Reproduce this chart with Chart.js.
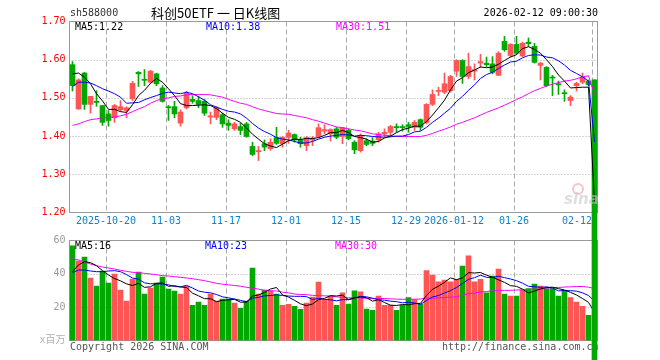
<!DOCTYPE html>
<html><head><meta charset="utf-8">
<script src="https://cdn.jsdelivr.net/npm/chart.js@4.4.1/dist/chart.umd.min.js"></script>
<style>
html,body{margin:0;padding:0;background:#fff;}
#wrap{position:relative;width:660px;height:360px;overflow:hidden;background:#fff;}
canvas{position:absolute;left:0;top:0;}
</style></head><body>
<div id="wrap"><canvas id="vol" width="660" height="360"></canvas><canvas id="price" width="660" height="360"></canvas></div>
<script>
const dates = ['2025-10-10','2025-10-13','2025-10-14','2025-10-15','2025-10-16','2025-10-17','2025-10-20','2025-10-21','2025-10-22','2025-10-23','2025-10-24','2025-10-27','2025-10-28','2025-10-29','2025-10-30','2025-10-31',
'2025-11-03','2025-11-04','2025-11-05','2025-11-06','2025-11-07','2025-11-10','2025-11-11','2025-11-12','2025-11-13','2025-11-14','2025-11-17','2025-11-18','2025-11-19','2025-11-20','2025-11-21','2025-11-24','2025-11-25','2025-11-26','2025-11-27','2025-11-28',
'2025-12-01','2025-12-02','2025-12-03','2025-12-04','2025-12-05','2025-12-08','2025-12-09','2025-12-10','2025-12-11','2025-12-12','2025-12-15','2025-12-16','2025-12-17','2025-12-18','2025-12-19','2025-12-22','2025-12-23','2025-12-24','2025-12-25','2025-12-26','2025-12-29','2025-12-30','2025-12-31',
'2026-01-05','2026-01-06','2026-01-07','2026-01-08','2026-01-09','2026-01-12','2026-01-13','2026-01-14','2026-01-15','2026-01-16','2026-01-19','2026-01-20','2026-01-21','2026-01-22','2026-01-23','2026-01-26','2026-01-27','2026-01-28','2026-01-29','2026-01-30',
'2026-02-02','2026-02-03','2026-02-04','2026-02-05','2026-02-06','2026-02-09','2026-02-10','2026-02-11','2026-02-12'];

const openP = [1.587,1.471,1.565,1.483,1.491,1.480,1.458,1.448,1.469,1.467,1.498,1.567,1.548,1.541,1.563,1.526,1.477,1.477,1.434,1.474,1.496,1.493,1.491,1.450,1.449,1.456,1.434,1.419,1.425,1.432,1.373,1.359,1.380,1.367,1.396,1.380,1.397,1.404,1.390,1.375,1.390,1.399,1.413,1.406,1.419,1.399,1.415,1.384,1.362,1.388,1.387,1.390,1.406,1.410,1.425,1.425,1.430,1.423,1.443,1.436,1.483,1.517,1.515,1.519,1.570,1.598,1.556,1.570,1.591,1.591,1.589,1.559,1.648,1.611,1.640,1.610,1.646,1.635,1.585,1.580,1.554,1.537,1.513,1.493,1.532,1.541,1.544,1.547];
const highP = [1.595,1.550,1.567,1.504,1.519,1.480,1.467,1.483,1.493,1.477,1.543,1.569,1.574,1.572,1.565,1.532,1.480,1.491,1.469,1.517,1.506,1.504,1.496,1.463,1.477,1.460,1.443,1.436,1.434,1.436,1.384,1.373,1.390,1.393,1.423,1.399,1.415,1.406,1.397,1.399,1.399,1.432,1.430,1.419,1.423,1.423,1.419,1.388,1.406,1.393,1.396,1.410,1.419,1.428,1.432,1.430,1.436,1.441,1.445,1.485,1.521,1.528,1.565,1.559,1.600,1.600,1.617,1.589,1.614,1.607,1.608,1.621,1.661,1.642,1.661,1.646,1.657,1.643,1.593,1.582,1.559,1.544,1.521,1.506,1.541,1.565,1.547,1.547];
const lowP = [1.518,1.470,1.470,1.460,1.478,1.428,1.426,1.436,1.464,1.448,1.493,1.530,1.532,1.538,1.532,1.489,1.441,1.448,1.426,1.471,1.486,1.474,1.454,1.432,1.443,1.423,1.415,1.415,1.404,1.397,1.349,1.336,1.362,1.363,1.378,1.371,1.381,1.384,1.371,1.362,1.375,1.396,1.406,1.387,1.393,1.380,1.390,1.354,1.358,1.375,1.375,1.384,1.399,1.401,1.410,1.413,1.410,1.415,1.415,1.432,1.480,1.506,1.511,1.515,1.556,1.538,1.550,1.547,1.580,1.582,1.563,1.559,1.622,1.607,1.614,1.608,1.635,1.591,1.547,1.530,1.506,1.509,1.491,1.480,1.518,1.537,1.532,0];
const closeP = [1.532,1.547,1.483,1.504,1.488,1.436,1.441,1.480,1.477,1.474,1.538,1.563,1.546,1.570,1.537,1.491,1.474,1.458,1.463,1.512,1.491,1.483,1.460,1.453,1.474,1.432,1.428,1.432,1.415,1.399,1.352,1.362,1.371,1.384,1.381,1.397,1.408,1.390,1.380,1.396,1.394,1.422,1.417,1.417,1.397,1.422,1.393,1.364,1.402,1.378,1.381,1.406,1.410,1.425,1.422,1.422,1.425,1.436,1.423,1.483,1.509,1.519,1.537,1.556,1.598,1.556,1.582,1.574,1.595,1.587,1.567,1.617,1.626,1.640,1.617,1.643,1.642,1.593,1.591,1.532,1.552,1.534,1.511,1.502,1.538,1.554,1.535,0];

const ma5 = [1.563,1.565,1.554,1.537,1.511,1.492,1.470,1.470,1.464,1.462,1.482,1.506,1.520,1.538,1.551,1.541,1.524,1.506,1.485,1.480,1.480,1.481,1.482,1.480,1.472,1.460,1.449,1.444,1.436,1.421,1.405,1.392,1.380,1.374,1.370,1.379,1.388,1.392,1.391,1.394,1.394,1.396,1.402,1.409,1.409,1.415,1.409,1.399,1.396,1.392,1.384,1.386,1.395,1.400,1.409,1.417,1.421,1.426,1.426,1.438,1.455,1.474,1.494,1.521,1.544,1.553,1.566,1.573,1.581,1.579,1.581,1.588,1.598,1.607,1.613,1.629,1.634,1.627,1.617,1.600,1.582,1.560,1.544,1.526,1.527,1.528,1.528,1.226];
const ma10 = [1.530,1.541,1.541,1.539,1.532,1.524,1.518,1.511,1.502,1.486,1.487,1.488,1.495,1.501,1.506,1.512,1.515,1.513,1.511,1.515,1.511,1.503,1.494,1.482,1.476,1.470,1.465,1.463,1.458,1.447,1.433,1.421,1.412,1.405,1.396,1.392,1.390,1.386,1.382,1.382,1.386,1.392,1.397,1.400,1.402,1.404,1.403,1.400,1.402,1.401,1.399,1.398,1.397,1.398,1.400,1.400,1.404,1.411,1.413,1.423,1.436,1.447,1.460,1.473,1.491,1.504,1.520,1.534,1.551,1.561,1.567,1.577,1.586,1.594,1.596,1.605,1.611,1.613,1.612,1.607,1.605,1.597,1.586,1.572,1.564,1.555,1.544,1.385];
const ma30 = [1.428,1.432,1.438,1.443,1.445,1.448,1.449,1.450,1.453,1.457,1.464,1.471,1.477,1.486,1.493,1.498,1.500,1.504,1.505,1.508,1.509,1.509,1.509,1.508,1.505,1.502,1.496,1.491,1.486,1.483,1.477,1.471,1.467,1.463,1.459,1.458,1.457,1.454,1.451,1.448,1.443,1.439,1.434,1.429,1.424,1.422,1.419,1.416,1.414,1.410,1.406,1.404,1.402,1.401,1.399,1.399,1.399,1.399,1.399,1.402,1.407,1.413,1.418,1.424,1.431,1.436,1.442,1.448,1.455,1.462,1.468,1.474,1.481,1.488,1.496,1.503,1.511,1.519,1.525,1.531,1.536,1.540,1.544,1.546,1.550,1.555,1.558,1.510];

const volume = [56.8,47.7,50.1,37.5,32.6,41.7,34.4,39.9,30.2,23.6,36.9,41.1,27.8,31.4,34.4,38.1,30.8,29.6,27.8,32.6,21.1,23.0,21.1,27.8,23.6,24.8,24.8,22.4,19.3,23.6,43.5,27.8,30.2,29.6,27.8,21.1,21.7,20.5,18.7,22.4,26.0,35.0,24.6,26.6,21.1,28.6,21.8,29.8,29.2,18.9,18.1,26.6,21.1,21.1,18.1,21.1,25.8,24.6,21.8,41.9,39.3,35.2,36.3,35.2,36.7,44.7,50.8,35.2,36.7,28.6,38.7,42.9,27.8,26.6,26.6,30.2,31.2,33.8,32.6,31.2,31.2,26.6,29.8,25.8,23.1,20.5,15.1,0];
const volMa5 = [41.3,45.3,47.3,46.7,44.9,41.9,39.3,37.2,35.8,34.0,33.0,34.3,31.9,32.2,34.3,34.6,32.5,32.9,32.1,31.8,28.4,26.8,25.1,25.1,23.3,24.1,24.4,24.7,23.0,23.0,26.7,27.3,28.9,30.9,31.8,27.3,26.1,24.1,22.0,20.9,21.9,24.5,25.3,26.9,26.7,27.2,24.5,25.6,26.1,25.7,23.6,24.5,22.8,21.2,21.0,21.6,21.4,22.1,22.3,27.0,30.7,32.6,34.9,37.6,36.5,37.6,40.7,40.5,40.8,39.2,38.0,36.4,34.9,32.9,32.5,30.8,28.5,29.7,30.9,31.8,32.0,31.1,30.3,28.9,27.3,25.2,22.9,16.9];
const volMa10 = [40.7,42.3,42.3,41.7,41.3,41.3,41.7,41.9,41.3,39.5,37.5,36.8,34.6,34.0,34.1,33.8,33.4,32.4,32.2,33.1,31.5,29.7,29.0,28.6,27.6,26.2,25.6,24.9,24.1,23.2,25.4,25.9,26.8,27.0,27.4,27.0,26.7,26.5,26.5,26.3,24.6,25.3,24.7,24.4,23.8,24.5,24.5,25.5,26.5,26.2,25.4,24.5,24.2,23.6,23.3,22.6,23.0,22.5,21.7,24.0,26.1,27.0,28.5,29.9,31.8,34.2,36.7,37.7,39.2,37.9,37.8,38.6,37.7,36.9,35.9,34.4,32.5,32.3,31.9,32.2,31.4,29.8,30.0,29.9,29.6,28.6,27.0,23.6];
const volMa30 = [49.1,48.3,47.1,45.9,44.9,44.1,43.5,42.9,42.1,41.5,40.9,40.7,40.3,39.9,39.5,38.9,38.7,38.3,37.9,37.5,37.1,36.5,35.9,35.1,34.3,33.8,33.4,33.0,32.6,31.9,31.4,30.8,30.1,29.9,29.7,29.0,28.6,27.9,27.6,27.5,27.1,26.9,26.8,26.7,26.2,25.9,25.6,25.6,25.7,25.2,25.1,25.2,25.2,25.0,24.8,24.7,24.7,24.8,24.9,25.5,25.4,25.6,25.8,26.0,26.3,27.1,28.1,28.5,29.1,29.4,29.8,30.0,30.1,30.1,30.3,30.4,30.7,30.8,30.9,31.4,31.8,31.8,32.1,32.2,32.4,32.4,32.0,31.2];

const tickIndex = [6,16,26,36,46,56,64,74,87];
const tickText = ['2025-10-20','11-03','11-17','12-01','12-15','12-29','2026-01-12','01-26','02-12'];
const priceGrid = [1.3,1.4,1.5,1.6];
const volGrid = [20,40];
const priceLegend = ['MA5:1.22','MA10:1.38','MA30:1.51'];
const volLegend = ['MA5:16','MA10:23','MA30:30'];

const UP = '#ff5555', DOWN = '#00a800';
const MONO = "'DejaVu Sans Mono', 'Liberation Mono', monospace";
const candleColor = closeP.map((c,i)=> c>=openP[i] ? UP : DOWN);
const wickData = lowP.map((l,i)=>[l, highP[i]]);
const bodyData = openP.map((o,i)=>[o, closeP[i]]);

function drawFrame(chart, hVals){
  const {ctx, chartArea:a, scales:{x,y}} = chart;
  const slot = (a.right-a.left)/dates.length;
  const L = Math.floor(a.left)+0.5, R = Math.floor(a.right)+0.5, T = Math.floor(a.top)+0.5, B = Math.floor(a.bottom)+0.5;
  ctx.save();
  ctx.lineWidth = 1;
  ctx.strokeStyle = '#aaaaaa';
  ctx.setLineDash([1,2]);
  hVals.forEach(v=>{
    const py = Math.round(y.getPixelForValue(v))+0.5;
    ctx.beginPath(); ctx.moveTo(L,py); ctx.lineTo(R,py); ctx.stroke();
  });
  ctx.setLineDash([5,3]);
  tickIndex.forEach(i=>{
    const px = Math.round(x.getPixelForValue(i)-slot/2)+0.5;
    ctx.beginPath(); ctx.moveTo(px,T); ctx.lineTo(px,B); ctx.stroke();
  });
  ctx.setLineDash([]);
  ctx.strokeStyle = '#999999';
  ctx.strokeRect(L,T,R-L,B-T);
  ctx.restore();
}

const pricePlugin = {
  id:'priceDecor',
  beforeDatasetsDraw(chart){ drawFrame(chart, priceGrid); },
  afterDraw(chart){
    const {ctx, chartArea:a, scales:{x}} = chart;
    const slot = (a.right-a.left)/dates.length;
    ctx.save();
    ctx.textBaseline = 'middle';
    ctx.font = '10px ' + MONO;
    ctx.fillStyle = '#333'; ctx.textAlign='left';
    ctx.fillText('sh588000', 70, 13);
    ctx.fillStyle = '#000'; ctx.textAlign='right';
    ctx.fillText('2026-02-12 09:00:30', 598, 13);
    ctx.font = "13px 'Noto Sans CJK SC'";
    ctx.textAlign='left';
    ctx.fillText('科创50ETF 一 日K线图', 151, 13);
    ctx.font = '10px ' + MONO;
    ctx.fillStyle='#000'; ctx.fillText(priceLegend[0], 75, 27);
    ctx.fillStyle='#0000ff'; ctx.fillText(priceLegend[1], 206, 27);
    ctx.fillStyle='#ff00ff'; ctx.fillText(priceLegend[2], 336, 27);
    ctx.fillStyle='#0a84d0';
    tickIndex.forEach((idx,k)=>{
      const px = Math.round(x.getPixelForValue(idx)-slot/2);
      if (k === tickIndex.length-1){ ctx.textAlign='right'; ctx.fillText(tickText[k], px, 221); }
      else { ctx.textAlign='center'; ctx.fillText(tickText[k], px, 221); }
    });
    // watermark
    ctx.globalAlpha = 0.6;
    ctx.strokeStyle = '#f0a0a0'; ctx.lineWidth = 2;
    ctx.beginPath(); ctx.arc(578, 189, 5, 0, Math.PI*2); ctx.stroke();
    ctx.fillStyle = '#c8c8c8';
    ctx.font = "italic bold 15px 'DejaVu Sans'";
    ctx.textAlign='left';
    ctx.fillText('sina', 564, 200);
    ctx.restore();
  }
};

const volPlugin = {
  id:'volDecor',
  beforeDatasetsDraw(chart){ drawFrame(chart, volGrid); },
  afterDraw(chart){
    const {ctx} = chart;
    ctx.save();
    ctx.textBaseline='middle'; ctx.textAlign='left';
    ctx.font = '10px ' + MONO;
    ctx.fillStyle='#000'; ctx.fillText(volLegend[0], 75, 246);
    ctx.fillStyle='#0000ff'; ctx.fillText(volLegend[1], 205, 246);
    ctx.fillStyle='#ff00ff'; ctx.fillText(volLegend[2], 335, 246);
    ctx.fillStyle='#555';
    ctx.fillText('Copyright 2026 SINA.COM', 70, 347);
    ctx.fillText('http://finance.sina.com.cn', 442, 347);
    ctx.restore();
  }
};

function lineDs(label, data, color){
  return {type:'line', label, data, borderColor:color, borderWidth:1, pointRadius:0, tension:0, fill:false, order:0};
}

const common = {
  responsive:false, animation:false, devicePixelRatio:1,
  events:[],
  plugins:{legend:{display:false}, tooltip:{enabled:false}}
};

new Chart(document.getElementById('price'), {
  type:'bar',
  data:{labels:dates, datasets:[
    lineDs('MA5', ma5, '#000000'),
    lineDs('MA10', ma10, '#0000ff'),
    lineDs('MA30', ma30, '#ff00ff'),
    {label:'wick', data:wickData, backgroundColor:candleColor, barThickness:1, grouped:false, clip:false, order:2},
    {label:'body', data:bodyData, backgroundColor:candleColor, barThickness:5, grouped:false, clip:false, minBarLength:1, order:1}
  ]},
  options:Object.assign({}, common, {
    layout:{padding:{left:0, right:62.5, top:21.5, bottom:147.5}},
    scales:{
      x:{display:false, offset:true},
      y:{min:1.2, max:1.7, afterFit(s){ s.width = 69.5; },
         grid:{display:false, drawTicks:false}, border:{display:false},
         ticks:{stepSize:0.1, color:'#ff0000', padding:4, font:{family:MONO, size:10}, callback:v=>Number(v).toFixed(2)}}
    }
  }),
  plugins:[pricePlugin]
});

new Chart(document.getElementById('vol'), {
  type:'bar',
  data:{labels:dates, datasets:[
    lineDs('VMA5', volMa5, '#000000'),
    lineDs('VMA10', volMa10, '#0000ff'),
    lineDs('VMA30', volMa30, '#ff00ff'),
    {label:'volume', data:volume, backgroundColor:candleColor, barThickness:5, order:1}
  ]},
  options:Object.assign({}, common, {
    layout:{padding:{left:0, right:62.5, top:240.5, bottom:19.5}},
    scales:{
      x:{display:false, offset:true},
      y:{min:0, max:60, afterFit(s){ s.width = 69.5; },
         grid:{display:false, drawTicks:false}, border:{display:false},
         ticks:{stepSize:20, padding:4, font:{family:"'DejaVu Sans Mono', 'Noto Sans CJK SC', monospace", size:10},
                color:c=> (c.tick && c.tick.value===0) ? '#b0b0b0' : '#999999',
                callback:v=> v===0 ? 'x百万' : String(v)}}
    }
  }),
  plugins:[volPlugin]
});
</script>
</body></html>
